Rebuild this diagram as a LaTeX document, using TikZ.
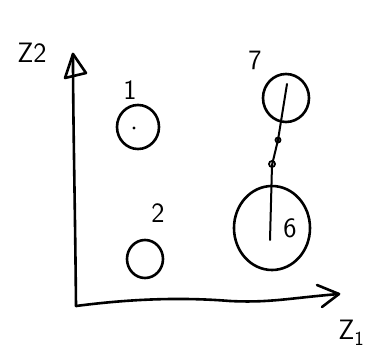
\documentclass[tikz,border=0pt]{standalone}
\usetikzlibrary{shapes.geometric}
\begin{document}
\begin{tikzpicture}[x=1pt,y=-1pt,
  pen/.style={line width=2.6pt,line cap=round,line join=round},
  blob/.style={ellipse,draw,line width=2.6pt,inner sep=0pt},
  lbl/.style={font=\sffamily\fontsize{28}{28}\selectfont,inner sep=0pt}]
\useasboundingbox (0,0) rectangle (369,353);
% axes
\coordinate (o) at (76,306);
\coordinate (ytip) at (73,54);
\coordinate (xtip) at (339,294);
\draw[pen] (o) .. controls (75,200) and (73,120) .. (ytip);
\draw[pen] (ytip) -- (65,78) -- (86,73) -- cycle;
\draw[pen] (o) .. controls (130,299) and (180,297) .. (230,301)
  .. controls (270,303) and (290,298) .. (xtip);
\draw[pen] (317,285) -- (xtip) -- (322,307);
\node[lbl] (zt) at (32,53) {Z2};
\node[lbl] (zr) at (351,333) {Z\raisebox{-6pt}{\fontsize{20}{20}\selectfont 1}};
% clusters
\node[blob,minimum width=42pt,minimum height=44pt] (c1) at (138,127) {};
\fill (134,128) circle (1.6pt);
\node[lbl] (l1) at (130,90) {1};
\node[blob,minimum width=36pt,minimum height=38pt] (c2) at (145,259) {};
\node[lbl] (l2) at (158,213) {2};
\node[blob,minimum width=46pt,minimum height=48pt] (c7) at (286,98) {};
\node[lbl] (l7) at (255,60) {7};
\node[blob,minimum width=76pt,minimum height=84pt] (c6) at (272,228) {};
\node[lbl] (l6) at (290,228) {6};
% link between 7 and 6
\coordinate (a) at (287,84);
\coordinate (b) at (270,240);
\draw[line width=2pt,line cap=round] (a) -- (278,140) -- (272,165) -- (b);
\draw[line width=1.8pt] (278,140) circle (2.5pt) (272,164) circle (3pt);
\end{tikzpicture}
\end{document}
